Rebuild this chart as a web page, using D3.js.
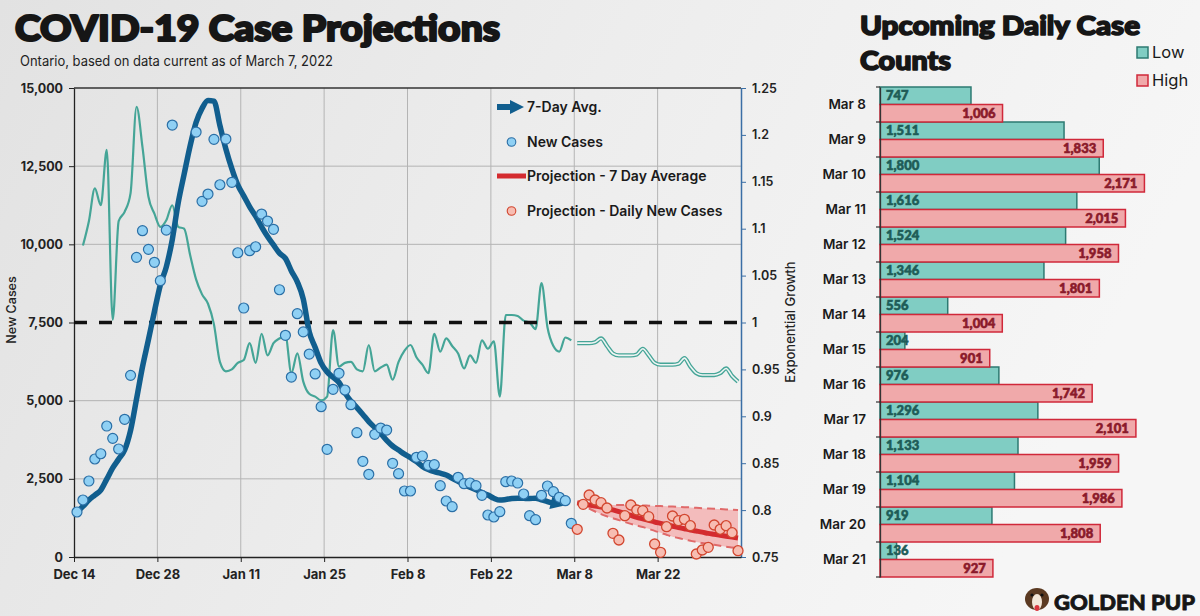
<!DOCTYPE html>
<html><head><meta charset="utf-8">
<script src="https://cdn.jsdelivr.net/npm/d3@7"></script>
<style>
body{margin:0;padding:0;background:#eee;}
svg{display:block;}
</style></head><body>
<svg id="c" width="1200" height="616"></svg>
<script>
// ---------------- DATA ----------------
const startDate = "2021-12-14";
const endDate = "2022-04-05";
// daily new cases, day index 0 = Dec 14 (null = off chart, above 15,000)
const newCases = [1439,1823,2430,3134,3303,4189,3795,3454,4403,5810,
  9584,10436,9840,9425,8837,10457,13815,null,null,null,
  13591,11375,11608,13357,11906,13367,11983,9731,7963,9796,
  9923,10969,10745,10480,8548,7090,5756,7781,7200,6490,
  5855,4807,3444,5363,5875,5341,4871,3975,3060,2645,
  3924,4125,4061,2996,2664,2111,2111,3188,3230,2932,
  2952,2280,1791,1609,2549,2344,2366,2280,1973,1343,
  1279,1449,2408,2430,2366,2015,1321,1193,1973,2270,
  2089,1909,1800,1077];
// 7-day average, index 0..80
const avg7 = [1440,1620,1820,1980,2140,2490,2850,3130,3420,4050,
  5050,6080,6950,7850,8700,9280,10150,11330,12250,13150,
  13900,14350,14600,14580,13800,13050,12420,11900,11550,11200,
  10900,10560,10250,9980,9720,9550,9150,8800,8250,7200,
  6700,6200,5920,5750,5580,5250,4980,4780,4560,4330,
  4140,3950,3730,3550,3420,3290,3180,3050,2900,2800,
  2730,2680,2620,2520,2420,2320,2230,2150,2060,1980,
  1880,1820,1840,1870,1880,1875,1870,1880,1830,1770,1720];
// exponential growth, index 1..83
const growthStart = 1;
const growth = [1.082,1.108,1.143,1.125,1.184,1.003,1.108,1.118,1.138,1.230,
  1.187,1.134,1.116,1.102,1.109,1.125,1.102,1.100,1.072,1.046,
  1.030,1.020,0.998,0.958,0.948,0.950,0.957,0.960,0.978,0.957,
  0.988,0.965,0.978,0.983,0.986,0.946,0.967,0.937,0.924,0.921,
  0.917,0.921,0.992,0.953,0.957,0.958,0.950,0.948,0.976,0.948,
  0.952,0.955,0.939,0.958,0.970,0.976,0.963,0.955,0.946,0.988,
  0.969,0.983,0.975,0.967,0.951,0.965,0.957,0.981,0.972,0.980,
  0.921,1.008,1.008,1.007,1.002,1.000,0.993,1.042,0.995,0.975,
  0.969,0.984,0.981];
// projections, index 84..111 (Mar 8 onward)
const projStart = 84;
const projGrowth = [0.978,0.978,0.978,0.979,0.983,0.975,0.967,0.965,0.965,0.965,
  0.966,0.972,0.965,0.957,0.955,0.955,0.955,0.956,0.962,0.953,
  0.946,0.944,0.944,0.944,0.946,0.951,0.943,0.937];
const projAvg = [1735,1700,1665,1630,1595,1557,1505,1450,1390,1330,
  1270,1220,1170,1120,1075,1030,985,945,905,865,
  830,795,755,725,695,665,635,605];
const projUpper = [1745,1725,1705,1690,1675,1665,1662,1660,1660,1658,
  1655,1650,1642,1635,1628,1620,1612,1603,1595,1585,
  1575,1562,1552,1542,1532,1522,1512,1500];
const projLower = [1735,1640,1545,1455,1370,1300,1237,1180,1120,1060,
  1005,960,900,835,775,710,650,605,560,520,
  480,445,420,390,360,330,305,280];
const projDaily = [886,1685,1983,1823,1737,1567,758,544,1321,1663,
  1503,1481,1289,416,150,969,1311,1161,1206,1001,
  96,224,310,1023,886,1001,777,201];
const leftTicks = [0,2500,5000,7500,10000,12500,15000];
const rightTicks = [0.75,0.8,0.85,0.9,0.95,1,1.05,1.1,1.15,1.2,1.25];
const xTickDates = ["2021-12-14","2021-12-28","2022-01-11","2022-01-25","2022-02-08","2022-02-22","2022-03-08","2022-03-22"];
const legendLabels = ["7-Day Avg.","New Cases","Projection - 7 Day Average","Projection - Daily New Cases"];
// bar panel
const barDates = ["Mar 8","Mar 9","Mar 10","Mar 11","Mar 12","Mar 13","Mar 14","Mar 15","Mar 16","Mar 17","Mar 18","Mar 19","Mar 20","Mar 21"];
const lowCounts = [747,1511,1800,1616,1524,1346,556,204,976,1296,1133,1104,919,136];
const highCounts = [1006,1833,2171,2015,1958,1801,1004,901,1742,2101,1959,1986,1808,927];

// ---------------- DRAW ----------------
const W=1200,H=616;
const FONT="'Inter','Roboto','DejaVu Sans',sans-serif";
const HEAVY="'Lato','Open Sans','DejaVu Sans',sans-serif";
const svg=d3.select("#c");
const defs=svg.append("defs");
const bg=defs.append("linearGradient").attr("id","bg").attr("x1","0").attr("x2","1").attr("y1","0").attr("y2","0.25");
bg.append("stop").attr("offset","0%").attr("stop-color","#e2e2e2");
bg.append("stop").attr("offset","50%").attr("stop-color","#ededed");
bg.append("stop").attr("offset","100%").attr("stop-color","#f6f6f6");
svg.append("rect").attr("width",W).attr("height",H).attr("fill","url(#bg)");

const parse=d3.timeParse("%Y-%m-%d");
const t0=parse(startDate);
const x=d3.scaleTime().domain([t0,parse(endDate)]).range([74,741]);
const y=d3.scaleLinear().domain([0,15000]).range([557,88]);
const yR=d3.scaleLinear().domain([0.75,1.25]).range([557,88]);
const dayX=i=>x(d3.timeHour.offset(d3.timeDay.offset(t0,Math.floor(i)),12));

// heavy text helper (thickened with a same-colour stroke)
function heavy(sel,sw){return sel.attr("stroke",sel.attr("fill")).attr("stroke-width",sw).attr("stroke-linejoin","round").attr("paint-order","stroke");}

// grid
const gGrid=svg.append("g");
gGrid.selectAll("line.v").data(xTickDates.slice(1)).join("line")
  .attr("x1",d=>x(parse(d))).attr("x2",d=>x(parse(d))).attr("y1",88).attr("y2",557)
  .attr("stroke","#b4b4b4").attr("stroke-width",1);
gGrid.selectAll("line.h").data(leftTicks.filter(d=>d!==0&&d!==7500&&d!==15000)).join("line")
  .attr("x1",74).attr("x2",741).attr("y1",d=>y(d)).attr("y2",d=>y(d))
  .attr("stroke","#b4b4b4").attr("stroke-width",1);
svg.append("line").attr("x1",74).attr("x2",741).attr("y1",y(15000)).attr("y2",y(15000))
  .attr("stroke","#333").attr("stroke-width",1.5);

// axes
const ax=svg.append("g").attr("transform","translate(74,0)")
  .call(d3.axisLeft(y).tickValues(leftTicks).tickFormat(d3.format(",")).tickSize(5).tickSizeOuter(0));
ax.select(".domain").attr("stroke","#222").attr("stroke-width",1.3);
ax.selectAll(".tick line").attr("stroke","#222");
ax.selectAll("text").attr("font-family",FONT).attr("font-size",12.5).attr("font-weight",700).attr("fill","#222").attr("x",-11);

const axR=svg.append("g").attr("transform","translate(741,0)")
  .call(d3.axisRight(yR).tickValues(rightTicks).tickFormat(d=>String(d)).tickSize(5).tickSizeOuter(0));
axR.select(".domain").attr("stroke","#3a6ea5").attr("stroke-width",1.5);
axR.selectAll(".tick line").attr("stroke","#3a6ea5");
axR.selectAll("text").attr("font-family",FONT).attr("font-size",12.5).attr("font-weight",600).attr("fill","#222").attr("x",11);

const axB=svg.append("g").attr("transform","translate(0,557)")
  .call(d3.axisBottom(x).tickValues(xTickDates.map(parse)).tickFormat(d3.timeFormat("%b %-d")).tickSize(5).tickSizeOuter(0));
axB.select(".domain").attr("stroke","#222").attr("stroke-width",1.3);
axB.selectAll(".tick line").attr("stroke","#222");
axB.selectAll("text").attr("font-family",FONT).attr("font-size",13).attr("font-weight",700).attr("fill","#222").attr("dy","1.05em");

svg.append("text").attr("transform","translate(16,310) rotate(-90)").attr("text-anchor","middle")
  .attr("font-family",FONT).attr("font-size",12.5).attr("font-weight",500).attr("fill","#222").text("New Cases");
svg.append("text").attr("transform","translate(795,322) rotate(-90)").attr("text-anchor","middle")
  .attr("font-family",FONT).attr("font-size",13).attr("font-weight",500).attr("fill","#222").text("Exponential Growth");

// growth line (teal)
const growthData=growth.map((v,k)=>({i:k+growthStart,v}));
svg.append("path").datum(growthData)
  .attr("d",d3.line().x(d=>dayX(d.i)).y(d=>yR(d.v)).curve(d3.curveMonotoneX))
  .attr("fill","none").attr("stroke","#45a597").attr("stroke-width",2.2);
// projected growth double line
const pgData=projGrowth.map((v,k)=>({i:k+projStart,v}));
const pgLine=d3.line().x(d=>dayX(d.i)).y(d=>yR(d.v)).curve(d3.curveMonotoneX);
svg.append("path").datum(pgData).attr("d",pgLine).attr("fill","none").attr("stroke","#45a597").attr("stroke-width",4.2);
svg.append("path").datum(pgData).attr("d",pgLine).attr("fill","none").attr("stroke","#eef4f3").attr("stroke-width",1.6);

// threshold dashed line (7,500 / 1.0)
svg.append("line").attr("x1",74).attr("x2",741).attr("y1",y(7500)).attr("y2",y(7500))
  .attr("stroke","#111").attr("stroke-width",3.5).attr("stroke-dasharray","13,12");

// projection band
const bandData=projUpper.map((u,k)=>({i:k+projStart,u,l:projLower[k]}));
svg.append("path").datum(bandData)
  .attr("d",d3.area().x(d=>dayX(d.i)).y0(d=>y(d.l)).y1(d=>y(d.u)).curve(d3.curveMonotoneX))
  .attr("fill","#f3aaaa").attr("opacity",0.75);
["u","l"].forEach(k=>{
  svg.append("path").datum(bandData)
    .attr("d",d3.line().x(d=>dayX(d.i)).y(d=>y(d[k])).curve(d3.curveMonotoneX))
    .attr("fill","none").attr("stroke","#e06a6a").attr("stroke-width",2).attr("stroke-dasharray","8,5");
});
// projection average
svg.append("path").datum(projAvg.map((v,k)=>({i:k+projStart,v})))
  .attr("d",d3.line().x(d=>dayX(d.i)).y(d=>y(d.v)).curve(d3.curveMonotoneX))
  .attr("fill","none").attr("stroke","#d42b2f").attr("stroke-width",5);

// 7-day avg with arrow
defs.append("marker").attr("id","arr").attr("viewBox","0 0 10 10").attr("refX",2).attr("refY",5)
  .attr("markerWidth",14).attr("markerHeight",13).attr("markerUnits","userSpaceOnUse").attr("orient","auto")
  .append("path").attr("d","M0,0L10,5L0,10z").attr("fill","#115e8e");
svg.append("path").datum(avg7.map((v,i)=>({i,v})))
  .attr("d",d3.line().x(d=>dayX(d.i)).y(d=>y(d.v)).curve(d3.curveMonotoneX))
  .attr("fill","none").attr("stroke","#115e8e").attr("stroke-width",5.5).attr("stroke-linejoin","round")
  .attr("marker-end","url(#arr)");

// new cases points
svg.append("g").selectAll("circle").data(newCases.map((v,i)=>({i,v})).filter(d=>d.v!=null)).join("circle")
  .attr("cx",d=>dayX(d.i)).attr("cy",d=>y(d.v)).attr("r",5)
  .attr("fill","#8fd0f4").attr("stroke","#2b6fa6").attr("stroke-width",1.2);
// projected daily points
svg.append("g").selectAll("circle").data(projDaily.map((v,k)=>({i:k+projStart,v}))).join("circle")
  .attr("cx",d=>dayX(d.i)).attr("cy",d=>y(d.v)).attr("r",5)
  .attr("fill","#f7bdb2").attr("stroke","#d2462f").attr("stroke-width",1.3);

// legend
const lg=svg.append("g");
const ly=[107,142,176,211];
lg.append("line").attr("x1",497).attr("x2",512).attr("y1",ly[0]).attr("y2",ly[0]).attr("stroke","#115e8e").attr("stroke-width",6);
lg.append("path").attr("d",`M510,${ly[0]-7}L524,${ly[0]}L510,${ly[0]+7}Z`).attr("fill","#115e8e");
lg.append("circle").attr("cx",511.5).attr("cy",ly[1]).attr("r",4.3).attr("fill","#8fd0f4").attr("stroke","#2b6fa6").attr("stroke-width",1.1);
lg.append("line").attr("x1",497).attr("x2",526).attr("y1",ly[2]).attr("y2",ly[2]).attr("stroke","#d42b2f").attr("stroke-width",5);
lg.append("circle").attr("cx",511.5).attr("cy",ly[3]).attr("r",4.3).attr("fill","#f7bdb2").attr("stroke","#d2462f").attr("stroke-width",1.1);
lg.selectAll("text").data(legendLabels).join("text")
  .attr("x",527).attr("y",(d,i)=>ly[i]+5).attr("font-family",FONT).attr("font-size",14).attr("font-weight",600)
  .attr("fill","#1a1a1a").text(d=>d);

// titles
heavy(svg.append("text").attr("x",15).attr("y",41).attr("font-family",HEAVY).attr("font-size",36).attr("font-weight",900)
  .attr("fill","#161616").attr("textLength",485).attr("lengthAdjust","spacingAndGlyphs").text("COVID-19 Case Projections"),2.2);
svg.append("text").attr("x",20).attr("y",66).attr("font-family",FONT).attr("font-size",14).attr("font-weight",400)
  .attr("fill","#222").attr("textLength",313).attr("lengthAdjust","spacingAndGlyphs").text("Ontario, based on data current as of March 7, 2022");

// ---------------- BAR PANEL ----------------
heavy(svg.append("text").attr("x",860).attr("y",35).attr("font-family",HEAVY).attr("font-size",27).attr("font-weight",900)
  .attr("fill","#161616").attr("textLength",280).attr("lengthAdjust","spacingAndGlyphs").text("Upcoming Daily Case"),1.6);
heavy(svg.append("text").attr("x",860).attr("y",70).attr("font-family",HEAVY).attr("font-size",27).attr("font-weight",900)
  .attr("fill","#161616").attr("textLength",91).attr("lengthAdjust","spacingAndGlyphs").text("Counts"),1.6);
const bl=svg.append("g");
bl.append("rect").attr("x",1137).attr("y",47).attr("width",11).attr("height",11).attr("fill","#80cdc3").attr("stroke","#2d7a72").attr("stroke-width",1.5);
bl.append("text").attr("x",1152).attr("y",58).attr("font-family",FONT).attr("font-size",16.5).attr("fill","#1a1a1a").text("Low");
bl.append("rect").attr("x",1137).attr("y",75).attr("width",11).attr("height",11).attr("fill","#f0a9aa").attr("stroke","#d0283a").attr("stroke-width",1.5);
bl.append("text").attr("x",1152).attr("y",86).attr("font-family",FONT).attr("font-size",16.5).attr("fill","#1a1a1a").text("High");

const bx=d3.scaleLinear().domain([0,2500]).range([880,1184.5]);
const by=d3.scaleBand().domain(barDates).range([87,577]).padding(0);
const bh=by.bandwidth()/2;
const gb=svg.append("g");
gb.selectAll("rect.low").data(barDates).join("rect")
  .attr("x",bx(0)).attr("y",d=>by(d)).attr("width",(d,i)=>bx(lowCounts[i])-bx(0)).attr("height",bh)
  .attr("fill","#80cdc3").attr("stroke","#2d7a72").attr("stroke-width",1.5);
gb.selectAll("rect.high").data(barDates).join("rect")
  .attr("x",bx(0)).attr("y",d=>by(d)+bh).attr("width",(d,i)=>bx(highCounts[i])-bx(0)).attr("height",bh)
  .attr("fill","#f0a9aa").attr("stroke","#d0283a").attr("stroke-width",1.5);
gb.selectAll("text.low").data(barDates).join("text")
  .attr("x",bx(0)+6).attr("y",d=>by(d)+13).attr("font-family",HEAVY).attr("font-size",13).attr("font-weight",900)
  .attr("fill","#1e5c57").attr("stroke","#1e5c57").attr("stroke-width",0.6).attr("paint-order","stroke")
  .text((d,i)=>d3.format(",")(lowCounts[i]));
gb.selectAll("text.high").data(barDates).join("text")
  .attr("x",(d,i)=>bx(highCounts[i])-7).attr("y",d=>by(d)+bh+13.5).attr("text-anchor","end")
  .attr("font-family",HEAVY).attr("font-size",13).attr("font-weight",900)
  .attr("fill","#8a1a2a").attr("stroke","#8a1a2a").attr("stroke-width",0.6).attr("paint-order","stroke")
  .text((d,i)=>d3.format(",")(highCounts[i]));
const bAx=svg.append("g").attr("transform","translate(880,0)")
  .call(d3.axisLeft(by).tickSize(0).tickPadding(14));
bAx.select(".domain").attr("stroke","#333").attr("stroke-width",1.3);
bAx.selectAll("text").attr("font-family",FONT).attr("font-size",13.5).attr("font-weight",600).attr("fill","#1a1a1a");
svg.append("g").selectAll("line").data(barDates.concat(["end"])).join("line")
  .attr("x1",876).attr("x2",880).attr("y1",(d,i)=>i<barDates.length?by(d):577).attr("y2",(d,i)=>i<barDates.length?by(d):577)
  .attr("stroke","#333").attr("stroke-width",1.2);

// logo
const lo=svg.append("g");
lo.append("ellipse").attr("cx",1037).attr("cy",599).attr("rx",12).attr("ry",11).attr("fill","#5b3a22");
lo.append("ellipse").attr("cx",1037).attr("cy",602).attr("rx",5).attr("ry",8).attr("fill","#f2e6d8");
lo.append("circle").attr("cx",1032).attr("cy",595).attr("r",1.6).attr("fill","#111");
lo.append("circle").attr("cx",1042).attr("cy",595).attr("r",1.6).attr("fill","#111");
lo.append("ellipse").attr("cx",1037).attr("cy",608).attr("rx",2.5).attr("ry",3).attr("fill","#d9363e");
heavy(lo.append("text").attr("x",1054).attr("y",610).attr("font-family",HEAVY).attr("font-size",21).attr("font-weight",900)
  .attr("fill","#161616").attr("textLength",141).attr("lengthAdjust","spacingAndGlyphs").text("GOLDEN PUP"),0.8);
</script>
</body></html>
